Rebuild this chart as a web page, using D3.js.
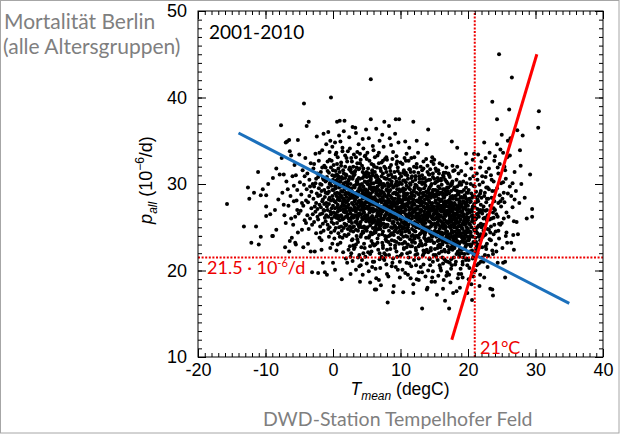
<!DOCTYPE html>
<html><head><meta charset="utf-8">
<script src="https://cdn.jsdelivr.net/npm/d3@7"></script>
<style>body{margin:0;background:#fff}svg{display:block}</style>
</head><body>
<svg id="c" width="620" height="435"></svg>
<script>
// ---- data ----
const xTicks = [-20, -10, 0, 10, 20, 30, 40];
const yTicks = [10, 20, 30, 40, 50];
const period = "2001-2010";
const tCrit = 21;      // degC
const pCrit = 21.5;    // 1e-6/d
const blueFit = [[-14, 35.9], [35, 16.2]];
const redFit = [[17.6, 12.0], [30.2, 45.0]];

// daily observations [Tmean, p_all]
const obsCold = [[-15.7,27.7],[-13.2,25.1],[-12.6,29.6],[-12.4,28.3],[-12.1,23.2],[-11.7,29.0],[-11.4,25.1],[-11.1,31.4],[-11.0,23.0],[-10.7,23.9],[-10.7,28.7],[-10.4,29.4],[-9.9,28.7],[-9.9,27.4],[-9.9,26.3],[-9.6,30.0],[-9.3,26.5],[-9.0,24.0],[-8.9,30.7],[-8.9,24.0],[-8.4,31.8],[-8.4,24.7],[-7.9,31.1],[-7.7,36.8],[-7.3,31.1],[-7.3,27.6],[-7.1,22.7],[-7.0,34.8],[-7.0,25.5],[-6.8,34.9],[-6.7,29.4],[-6.5,35.1],[-6.5,22.2],[-6.4,33.8],[-6.4,23.4],[-6.2,33.3],[-6.1,23.8],[-5.9,25.3],[-5.6,26.2],[-5.6,23.2],[-5.5,23.0],[-5.3,27.0],[-5.2,35.1],[-5.2,24.4],[-5.4,28.1],[-7.5,29.0],[-7.2,26.4],[-6.9,30.3],[-6.6,27.5],[-6.3,28.6],[-6.0,30.9],[-5.8,29.8],[-5.7,32.2],[-5.5,31.0],[-5.3,29.3],[-5.1,26.6],[-5.0,33.4],[-6.2,26.0],[-5.8,28.0],[-8.1,28.2],[-8.6,27.0],[-7.6,33.0],
[-4.9,30.2],[-4.8,26.9],[-4.7,28.8],[-4.6,24.7],[-4.5,31.6],[-4.4,27.5],[-4.3,29.9],[-4.2,25.8],[-4.1,33.0],[-4.0,28.1],[-4.3,39.3],[-4.4,22.7],[-4.6,27.8],[-4.2,30.9],
[-3.9,36.7],[-3.6,37.2],[-3.7,23.1],[-3.3,22.2],[-3.9,29.4],[-3.8,26.4],[-3.8,31.2],[-3.7,27.9],[-3.6,24.8],[-3.5,30.5],[-3.5,28.6],[-3.4,26.0],[-3.3,32.4],[-3.2,29.1],[-3.2,27.2],[-3.1,25.3],[-3.1,19.8],[-3.0,30.0],
[-2.9,28.3],[-2.9,31.8],[-2.8,25.6],[-2.8,29.7],[-2.7,22.2],[-2.7,27.4],[-2.6,33.5],[-2.6,26.8],[-2.5,30.6],[-2.5,24.3],[-2.4,35.5],[-2.4,28.9],[-2.3,27.1],[-2.3,31.2],[-2.2,19.7],[-2.2,25.9],[-2.1,29.5],[-2.1,32.7],[-2.0,27.6],[-2.0,23.8],[-2.6,30.1],[-2.3,26.2],
[-1.9,28.7],[-1.9,25.1],[-1.8,31.4],[-1.8,27.3],[-1.7,29.9],[-1.7,23.5],[-1.6,26.6],[-1.6,33.9],[-1.5,28.2],[-1.5,20.9],[-1.5,30.7],[-1.4,27.0],[-1.4,24.6],[-1.3,32.1],[-1.3,29.3],[-1.2,19.8],[-1.2,26.1],[-1.2,28.5],[-1.1,30.3],[-1.1,25.7],[-1.0,34.6],[-1.0,27.8],[-1.9,30.0],[-1.7,22.4],[-1.4,35.8],[-1.3,26.9],[-1.1,29.0],[-1.6,28.0],
[-0.9,19.5],[-0.9,27.4],[-0.9,30.8],[-0.8,25.3],[-0.8,28.9],[-0.8,32.6],[-0.7,36.0],[-0.7,26.2],[-0.7,29.6],[-0.6,23.9],[-0.6,27.7],[-0.6,31.3],[-0.5,28.4],[-0.5,25.0],[-0.5,33.7],[-0.4,26.8],[-0.4,30.2],[-0.4,22.6],[-0.3,40.0],[-0.3,28.1],[-0.3,24.4],[-0.3,31.9],[-0.2,27.2],[-0.2,29.8],[-0.2,26.0],[-0.1,34.3],[-0.1,28.6],[-0.1,23.1],[0.0,30.5],[0.0,20.9],[-0.8,27.0],[-0.6,29.1],[-0.4,35.0],[-0.2,25.6],[-0.1,31.0],
[-1.9,26.5],[-1.7,29.2],[-1.5,25.4],[-1.3,27.7],[-1.1,31.9],[-0.9,29.0],[-0.7,24.8],[-0.5,30.0],[-0.3,26.5],[-0.1,29.3],[-1.8,24.4],[-1.4,30.5],[-1.0,26.4],[-0.6,28.2],[-0.2,32.7],[-2.5,27.8],[-3.0,26.5],[-2.2,28.6],[-3.4,29.7],[-4.0,25.5]];

const obsCool = [[0.0,27.5],[0.1,29.3],[0.1,25.4],[0.1,32.2],[0.2,28.0],[0.2,23.7],[0.2,30.9],[0.3,20.1],[0.3,26.6],[0.3,29.7],[0.3,34.8],[0.4,27.9],[0.4,24.9],[0.4,31.5],[0.5,28.6],[0.5,26.1],[0.5,22.3],[0.5,30.4],[0.6,37.2],[0.6,27.3],[0.6,29.0],[0.6,25.5],[0.7,33.1],[0.7,28.2],[0.7,26.8],[0.7,23.0],[0.8,30.0],[0.8,27.0],[0.8,31.8],[0.8,24.3],[0.9,28.9],[0.9,26.3],[0.9,29.6],[0.9,35.6],[0.2,26.2],[0.4,29.5],[0.6,31.1],[0.8,28.4],[0.3,27.2],[0.5,33.6],[0.7,30.6],[0.9,25.0],
[1.0,37.3],[1.0,28.1],[1.0,25.8],[1.1,30.3],[1.1,27.0],[1.1,23.2],[1.2,29.2],[1.2,26.4],[1.2,32.5],[1.3,19.0],[1.3,28.6],[1.3,24.6],[1.3,30.8],[1.4,27.7],[1.4,34.2],[1.4,25.9],[1.5,29.9],[1.5,27.1],[1.5,22.1],[1.5,31.6],[1.6,28.3],[1.6,26.0],[1.6,36.1],[1.7,37.3],[1.7,29.4],[1.7,24.1],[1.7,27.5],[1.8,30.7],[1.8,26.7],[1.8,28.8],[1.8,33.3],[1.9,25.2],[1.9,29.0],[1.9,27.9],[1.9,21.4],[1.0,31.4],[1.2,27.4],[1.3,29.7],[1.4,23.8],[1.5,28.0],[1.6,30.1],[1.7,25.4],[1.8,32.0],[1.9,26.2],[1.1,34.9],[1.4,29.1],[1.6,24.9],[1.8,27.1],
[2.0,28.5],[2.0,25.3],[2.0,31.0],[2.1,20.9],[2.1,27.3],[2.1,29.8],[2.2,33.8],[2.2,26.5],[2.2,28.1],[2.3,24.2],[2.3,30.4],[2.3,27.6],[2.4,35.4],[2.4,29.1],[2.4,25.7],[2.5,22.8],[2.5,28.7],[2.5,31.9],[2.5,26.9],[2.6,30.0],[2.6,27.2],[2.6,24.6],[2.7,33.0],[2.7,28.4],[2.7,26.1],[2.7,29.5],[2.8,23.5],[2.8,27.8],[2.8,31.3],[2.9,25.0],[2.9,28.9],[2.9,36.6],[2.9,27.0],[2.0,26.8],[2.1,32.6],[2.2,24.8],[2.3,28.9],[2.4,27.1],[2.5,30.8],[2.6,25.8],[2.7,22.0],[2.8,29.2],[2.9,30.6],[2.1,28.0],[2.3,26.0],[2.5,34.1],[2.6,28.5],[2.8,25.5],[2.4,31.7],[2.0,29.6],[2.6,21.6],[2.9,26.4],
[3.0,27.6],[3.0,30.9],[3.0,24.5],[3.1,28.8],[3.1,26.2],[3.1,33.4],[3.2,29.6],[3.2,22.7],[3.2,27.3],[3.3,31.5],[3.3,25.6],[3.3,28.2],[3.4,20.1],[3.4,29.9],[3.4,26.8],[3.4,35.9],[3.5,27.7],[3.5,24.0],[3.5,30.3],[3.6,28.5],[3.6,26.0],[3.6,32.4],[3.7,29.2],[3.7,23.3],[3.7,27.1],[3.8,30.7],[3.8,25.2],[3.8,28.0],[3.8,34.6],[3.9,26.6],[3.9,29.5],[3.9,21.8],[3.0,28.4],[3.1,25.1],[3.2,31.1],[3.3,27.0],[3.4,24.7],[3.5,29.0],[3.6,33.7],[3.7,26.5],[3.8,27.4],[3.9,31.8],[3.0,22.9],[3.2,26.4],[3.4,28.6],[3.6,25.4],[3.7,30.0],[3.9,27.9],[3.1,29.8],[3.3,36.5],[3.5,26.3],[3.6,23.6],[3.8,29.1],[3.5,31.9],
[4.0,28.1],[4.0,25.3],[4.0,30.6],[4.1,27.0],[4.1,32.8],[4.1,23.9],[4.2,29.3],[4.2,26.5],[4.2,28.7],[4.3,21.2],[4.3,30.0],[4.3,27.4],[4.4,19.5],[4.4,25.9],[4.4,31.4],[4.4,28.3],[4.5,34.1],[4.5,26.9],[4.5,29.7],[4.5,24.4],[4.6,27.8],[4.6,30.9],[4.6,25.1],[4.7,28.9],[4.7,22.6],[4.7,26.3],[4.7,33.2],[4.8,29.4],[4.8,27.2],[4.8,24.8],[4.9,31.1],[4.9,28.0],[4.9,25.7],[4.9,36.3],[4.0,27.5],[4.1,29.9],[4.2,24.2],[4.3,32.1],[4.4,27.1],[4.5,28.6],[4.6,23.1],[4.7,30.3],[4.8,26.0],[4.9,29.0],[4.0,33.5],[4.2,27.9],[4.3,25.0],[4.5,31.8],[4.6,26.7],[4.8,28.5],[4.1,20.6],[4.3,28.8],[4.5,27.3],[4.7,24.9],[4.9,30.2],[4.4,35.2],
[5.0,27.9],[5.0,24.6],[5.0,30.8],[5.1,26.4],[5.1,29.2],[5.1,33.6],[5.2,22.1],[5.2,28.0],[5.2,25.8],[5.3,31.2],[5.3,27.3],[5.3,29.9],[5.4,24.0],[5.4,26.7],[5.4,28.6],[5.5,18.6],[5.5,30.4],[5.5,27.6],[5.5,25.2],[5.6,37.5],[5.6,42.1],[5.6,28.9],[5.6,26.1],[5.7,32.3],[5.7,27.0],[5.7,23.4],[5.8,29.6],[5.8,25.5],[5.8,28.2],[5.9,31.0],[5.9,26.8],[5.9,21.0],[5.9,27.7],[5.0,28.7],[5.1,25.0],[5.2,30.3],[5.3,26.0],[5.4,32.7],[5.5,28.3],[5.6,24.4],[5.7,29.4],[5.8,27.2],[5.9,34.4],[5.0,26.3],[5.2,29.0],[5.3,23.8],[5.4,27.8],[5.6,30.7],[5.7,25.7],[5.8,31.6],[5.9,24.9],[5.1,27.4],[5.3,35.3],[5.5,22.8],[5.7,28.5],[5.8,20.4],[5.4,29.5],
[6.0,27.1],[6.0,30.1],[6.0,24.3],[6.1,28.4],[6.1,25.6],[6.1,32.0],[6.2,17.8],[6.2,26.9],[6.2,29.3],[6.3,23.0],[6.3,27.8],[6.3,30.8],[6.4,25.3],[6.4,28.9],[6.4,17.8],[6.4,26.2],[6.5,31.9],[6.5,27.5],[6.5,24.7],[6.6,29.7],[6.6,26.6],[6.6,33.3],[6.7,28.1],[6.7,22.4],[6.7,25.9],[6.8,30.5],[6.8,27.3],[6.8,24.1],[6.9,28.7],[6.9,26.4],[6.9,35.0],[6.9,29.9],[6.0,26.0],[6.1,22.9],[6.2,31.4],[6.3,28.2],[6.4,27.0],[6.5,29.1],[6.6,23.7],[6.7,30.2],[6.8,26.8],[6.9,25.1],[6.0,33.9],[6.2,28.5],[6.3,25.0],[6.5,26.3],[6.6,27.9],[6.8,32.4],[6.9,21.3],[6.1,29.6],[6.4,36.4],[6.6,25.6],[6.7,27.4],[6.3,20.2],[6.5,30.4],[6.8,28.6],[6.2,24.6],
[7.0,27.4],[7.0,24.8],[7.0,30.3],[7.1,18.3],[7.1,26.5],[7.1,28.9],[7.2,32.5],[7.2,25.4],[7.2,27.9],[7.3,23.2],[7.3,29.6],[7.3,26.8],[7.4,31.2],[7.4,28.3],[7.4,24.5],[7.5,27.1],[7.5,34.3],[7.5,25.9],[7.5,29.0],[7.6,37.2],[7.6,22.0],[7.6,27.6],[7.6,30.7],[7.7,26.2],[7.7,28.6],[7.7,24.0],[7.8,31.8],[7.8,27.0],[7.8,25.2],[7.9,29.3],[7.9,26.6],[7.9,20.7],[7.0,28.2],[7.1,31.5],[7.2,26.0],[7.3,27.3],[7.4,22.6],[7.5,30.0],[7.6,25.0],[7.7,29.8],[7.8,28.0],[7.9,33.1],[7.0,25.7],[7.2,29.2],[7.3,24.2],[7.4,26.9],[7.6,28.8],[7.7,32.9],[7.8,23.6],[7.9,27.7],[7.1,27.0],[7.3,35.7],[7.5,21.4],[7.7,26.4],[7.8,30.6],[7.4,28.1],[7.9,25.3],
[8.0,26.7],[8.0,29.4],[8.0,23.9],[8.1,16.3],[8.1,27.8],[8.1,25.3],[8.2,31.0],[8.2,28.2],[8.2,26.0],[8.3,36.7],[8.3,24.6],[8.3,29.1],[8.3,27.2],[8.4,35.3],[8.4,30.5],[8.4,25.8],[8.5,28.6],[8.5,22.5],[8.5,26.5],[8.6,32.2],[8.6,27.6],[8.6,24.2],[8.7,29.9],[8.7,26.2],[8.7,28.4],[8.8,20.9],[8.8,27.0],[8.8,30.8],[8.9,17.5],[8.9,25.6],[8.9,28.9],[8.9,33.7],[8.0,27.5],[8.1,30.1],[8.2,23.3],[8.3,26.4],[8.4,28.0],[8.5,31.5],[8.6,25.0],[8.7,27.3],[8.8,24.9],[8.9,29.6],[8.0,32.8],[8.2,27.1],[8.3,21.8],[8.5,29.3],[8.6,26.8],[8.7,23.5],[8.8,28.3],[8.9,26.1],[8.1,25.9],[8.4,27.4],[8.6,34.5],[8.7,30.3],[8.2,28.8],[8.5,24.1],[8.8,26.3],[8.0,19.6],
[9.0,26.9],[9.0,29.7],[9.0,24.1],[9.1,27.5],[9.1,31.4],[9.1,25.2],[9.2,28.3],[9.2,22.9],[9.2,26.4],[9.3,37.5],[9.3,30.0],[9.3,27.0],[9.3,24.7],[9.4,28.8],[9.4,26.1],[9.4,33.2],[9.5,21.6],[9.5,27.7],[9.5,29.4],[9.6,25.5],[9.6,31.9],[9.6,27.2],[9.7,23.8],[9.7,28.5],[9.7,26.6],[9.8,37.5],[9.8,30.6],[9.8,25.0],[9.8,27.9],[9.9,29.1],[9.9,26.3],[9.9,19.2],[9.0,28.1],[9.1,23.4],[9.2,30.7],[9.3,26.0],[9.4,27.3],[9.5,32.6],[9.6,24.4],[9.7,29.9],[9.8,26.7],[9.9,28.2],[9.0,25.6],[9.2,27.8],[9.3,20.4],[9.4,30.3],[9.5,25.9],[9.7,34.8],[9.8,28.6],[9.9,24.6],[9.1,29.0],[9.4,22.2],[9.6,28.0],[9.7,27.1],[9.9,31.2],[9.2,35.8],[9.5,26.8],[9.8,23.1],
[0.3,28.9],[0.6,26.4],[0.9,30.2],[1.2,25.1],[1.5,27.9],[1.8,29.5],[2.1,26.2],[2.4,28.3],[2.7,24.9],[3.0,29.0],[3.3,26.9],[3.6,30.5],[3.9,25.0],[4.2,27.7],[4.5,29.3],[4.8,26.4],[5.1,28.4],[5.4,25.6],[5.7,30.1],[6.0,27.0],[6.3,24.4],[6.6,28.8],[6.9,26.9],[7.2,30.0],[7.5,25.4],[7.8,27.8],[8.1,29.2],[8.4,26.1],[8.7,24.3],[9.0,27.9],[9.3,29.0],[9.6,26.5],[9.9,25.3],
[0.1,26.7],[0.4,31.0],[0.7,27.6],[1.0,23.9],[1.3,28.4],[1.6,26.8],[1.9,31.1],[2.2,27.5],[2.5,25.1],[2.8,28.6],[3.1,31.2],[3.4,27.2],[3.7,24.6],[4.0,29.6],[4.3,26.1],[4.6,28.4],[4.9,23.8],[5.2,27.1],[5.5,29.7],[5.8,26.3],[6.1,27.6],[6.4,30.2],[6.7,24.8],[7.0,26.3],[7.3,28.5],[7.6,26.1],[7.9,23.4],[8.2,29.7],[8.5,27.9],[8.8,25.5],[9.1,26.2],[9.4,24.9],[9.7,28.3],
[0.2,24.6],[0.5,29.9],[0.8,26.0],[1.1,28.7],[1.4,30.6],[1.7,28.1],[2.0,24.0],[2.3,29.6],[2.6,26.6],[2.9,23.6],[3.2,28.0],[3.5,25.7],[3.8,26.3],[4.1,25.6],[4.4,29.1],[4.7,27.6],[5.0,31.4],[5.3,28.8],[5.6,25.9],[5.9,29.1],[6.2,25.8],[6.5,28.1],[6.8,29.3],[7.1,25.2],[7.4,29.9],[7.7,27.2],[8.0,28.5],[8.3,24.0],[8.6,30.0],[8.9,27.6],[9.2,25.1],[9.5,28.9],[9.8,29.4],
[0.0,28.2],[0.9,27.2],[1.6,29.8],[2.2,30.1],[3.0,26.1],[3.7,28.8],[4.4,24.5],[5.1,30.0],[5.8,24.2],[6.4,29.5],[7.0,29.0],[7.7,25.0],[8.4,29.8],[9.1,24.5],[9.8,27.3],[1.3,26.2],[2.6,31.5],[4.0,26.5],[5.4,27.1],[6.8,25.4],[8.0,25.1],[9.4,29.8]];

const obsWarm = [[10.0,26.6],[10.0,29.2],[10.0,23.6],[10.1,27.9],[10.1,25.1],[10.1,30.9],[10.2,28.1],[10.2,26.2],[10.2,21.9],[10.3,32.3],[10.3,27.3],[10.3,24.8],[10.4,17.5],[10.4,29.5],[10.4,26.8],[10.4,28.6],[10.5,25.4],[10.5,31.6],[10.5,27.6],[10.6,23.3],[10.6,28.9],[10.6,26.0],[10.7,34.9],[10.7,27.1],[10.7,24.5],[10.8,30.2],[10.8,26.5],[10.8,28.4],[10.9,22.7],[10.9,27.7],[10.9,25.7],[10.9,33.5],[10.0,28.0],[10.1,24.2],[10.2,30.0],[10.3,26.1],[10.4,23.9],[10.5,29.0],[10.6,27.4],[10.7,31.1],[10.8,24.0],[10.9,28.8],[10.0,25.9],[10.2,27.5],[10.3,20.1],[10.5,26.7],[10.6,30.4],[10.7,25.3],[10.8,27.0],[10.9,29.8],[10.1,26.9],[10.3,29.3],[10.5,22.5],[10.6,24.9],[10.8,32.7],[10.2,25.6],[10.4,31.3],[10.7,28.2],
[11.0,26.3],[11.0,28.9],[11.0,23.9],[11.1,27.4],[11.1,30.6],[11.1,25.0],[11.2,28.0],[11.2,21.5],[11.2,26.2],[11.3,31.7],[11.3,27.0],[11.3,24.4],[11.4,29.4],[11.4,25.8],[11.4,27.8],[11.5,19.1],[11.5,26.6],[11.5,29.9],[11.6,24.0],[11.6,28.3],[11.6,33.0],[11.7,26.0],[11.7,27.5],[11.7,22.8],[11.8,30.3],[11.8,25.4],[11.8,28.7],[11.9,37.2],[11.9,17.4],[11.9,26.9],[11.9,29.1],[11.0,27.7],[11.1,23.0],[11.2,29.6],[11.3,25.9],[11.4,27.2],[11.5,31.4],[11.6,26.4],[11.7,24.8],[11.8,27.9],[11.9,25.2],[11.0,31.0],[11.2,24.6],[11.3,28.5],[11.4,22.1],[11.5,27.1],[11.6,29.0],[11.7,30.9],[11.8,23.5],[11.9,28.2],[11.1,26.1],[11.3,34.2],[11.5,25.6],[11.6,20.5],[11.7,28.6],[11.8,26.7],[11.4,30.1],[11.0,25.3],
[12.05,26.8],[12.0,29.3],[12.15,23.2],[12.1,27.6],[12.25,30.9],[12.2,24.5],[12.35,27.2],[12.3,20.6],[12.45,25.5],[12.4,31.9],[12.55,26.3],[12.5,24.0],[12.65,29.5],[12.6,25.0],[12.75,27.9],[12.7,18.9],[12.85,26.0],[12.8,30.2],[12.95,23.4],[12.9,28.4],[12.0,32.0],[12.1,25.6],[12.2,27.0],[12.3,22.3],[12.4,29.8],[12.5,25.9],[12.6,28.0],[12.7,21.4],[12.8,26.3],[12.9,29.0],[12.05,33.1],[12.15,27.1],[12.25,22.6],[12.35,29.0],[12.45,25.2],[12.55,27.4],[12.65,31.3],[12.75,26.2],[12.85,24.2],[12.95,27.5],[12.0,24.6],[12.2,30.5],[12.3,24.0],[12.4,28.1],[12.5,21.9],[12.6,26.6],[12.7,28.8],[12.8,30.9],[12.9,23.0],[12.1,28.6],[12.3,26.4],[12.4,35.0],[12.6,25.3],[12.7,19.8],[12.8,28.3],[12.9,26.7],[12.2,29.9],[12.5,25.1],
[13.0,25.7],[13.0,28.3],[13.1,23.1],[13.1,27.0],[13.1,30.2],[13.2,15.6],[13.2,26.4],[13.2,24.6],[13.3,28.9],[13.3,21.7],[13.3,26.0],[13.4,31.8],[13.4,27.4],[13.4,25.2],[13.5,29.5],[13.5,23.8],[13.5,26.8],[13.6,28.2],[13.6,24.1],[13.6,30.7],[13.7,27.1],[13.7,25.5],[13.7,19.3],[13.8,32.9],[13.8,26.3],[13.8,28.6],[13.9,17.8],[13.9,34.6],[13.9,25.0],[13.9,27.7],[13.0,29.4],[13.1,26.9],[13.2,22.9],[13.3,27.9],[13.4,24.4],[13.5,30.1],[13.6,26.5],[13.7,23.0],[13.8,29.1],[13.9,26.0],[13.0,24.3],[13.1,28.0],[13.2,31.0],[13.3,25.5],[13.4,22.3],[13.5,27.3],[13.6,26.2],[13.7,29.8],[13.8,24.7],[13.9,30.4],[13.1,25.9],[13.3,30.6],[13.4,20.7],[13.6,27.8],[13.7,23.6],[13.8,27.2],[13.2,28.5],[13.5,25.8],[13.9,22.4],[13.0,32.0],
[14.0,26.1],[14.0,29.0],[14.0,23.4],[14.1,36.3],[14.1,27.5],[14.1,24.8],[14.2,30.5],[14.2,25.7],[14.2,28.1],[14.3,21.4],[14.3,26.6],[14.3,29.6],[14.4,24.3],[14.4,27.2],[14.4,31.7],[14.5,25.1],[14.5,28.4],[14.5,22.6],[14.6,26.9],[14.6,30.0],[14.6,24.0],[14.7,27.8],[14.7,25.4],[14.7,33.1],[14.8,19.9],[14.8,28.7],[14.8,26.3],[14.9,23.2],[14.9,29.3],[14.9,25.9],[14.0,27.3],[14.1,22.1],[14.2,26.8],[14.3,31.1],[14.4,25.6],[14.5,29.8],[14.6,27.6],[14.7,23.9],[14.8,30.8],[14.9,27.0],[14.0,24.7],[14.1,29.2],[14.2,23.7],[14.3,27.9],[14.4,20.6],[14.5,26.2],[14.6,28.6],[14.7,26.0],[14.8,24.4],[14.9,32.3],[14.0,31.4],[14.2,27.0],[14.3,25.0],[14.5,24.5],[14.6,32.6],[14.7,29.0],[14.8,27.1],[14.9,21.8],[14.1,26.4],[14.4,28.9],[14.6,18.7],[14.8,25.3],
[15.0,25.9],[15.0,28.5],[15.0,23.2],[15.1,27.0],[15.1,30.1],[15.1,24.6],[15.2,26.7],[15.2,21.8],[15.2,29.3],[15.3,25.3],[15.3,27.8],[15.3,31.5],[15.4,17.2],[15.4,26.2],[15.4,24.0],[15.4,28.9],[15.5,30.7],[15.5,25.6],[15.5,27.4],[15.6,22.9],[15.6,26.5],[15.6,29.7],[15.7,24.4],[15.7,28.2],[15.7,25.9],[15.8,32.4],[15.8,27.1],[15.8,23.6],[15.9,26.9],[15.9,29.0],[15.9,20.3],[15.9,25.1],[15.0,27.4],[15.1,22.5],[15.2,25.0],[15.3,28.6],[15.4,30.3],[15.5,23.4],[15.6,27.7],[15.7,26.3],[15.8,24.8],[15.9,28.0],[15.0,30.6],[15.1,26.0],[15.2,27.9],[15.3,23.9],[15.4,26.8],[15.5,29.2],[15.6,24.5],[15.7,31.2],[15.8,26.4],[15.9,22.7],[15.0,24.2],[15.2,31.8],[15.3,26.6],[15.5,21.2],[15.6,28.3],[15.7,22.0],[15.8,29.5],[15.9,27.5],[15.1,28.8],[15.4,25.4],[15.6,19.4],[15.8,25.8],
[16.0,25.7],[16.0,28.2],[16.0,23.0],[16.1,26.8],[16.1,29.9],[16.1,24.4],[16.2,27.5],[16.2,21.5],[16.2,25.3],[16.3,31.0],[16.3,26.1],[16.3,28.7],[16.4,23.7],[16.4,27.0],[16.4,25.0],[16.5,29.4],[16.5,22.4],[16.5,26.5],[16.6,16.5],[16.6,28.0],[16.6,24.8],[16.6,30.5],[16.7,26.3],[16.7,23.3],[16.7,27.7],[16.8,25.6],[16.8,31.9],[16.8,28.8],[16.9,24.1],[16.9,26.9],[16.9,19.8],[16.9,29.6],[16.0,27.1],[16.1,22.2],[16.2,29.0],[16.3,24.9],[16.4,27.8],[16.5,25.9],[16.6,23.6],[16.7,29.2],[16.8,26.6],[16.9,24.5],[16.0,30.4],[16.1,25.6],[16.2,26.9],[16.3,20.8],[16.4,28.4],[16.5,27.3],[16.6,25.2],[16.7,31.3],[16.8,23.9],[16.9,27.4],[16.0,24.2],[16.1,28.1],[16.2,23.4],[16.3,27.2],[16.4,30.8],[16.5,24.3],[16.6,26.7],[16.7,21.1],[16.8,27.9],[16.9,25.7],[16.2,32.2],[16.5,28.5],[16.7,25.0],[16.4,18.9],
[17.0,25.5],[17.0,28.0],[17.0,22.8],[17.1,26.6],[17.1,29.6],[17.1,24.2],[17.2,15.6],[17.2,27.3],[17.2,25.1],[17.3,30.8],[17.3,26.0],[17.3,23.5],[17.4,28.5],[17.4,24.9],[17.4,27.0],[17.5,21.3],[17.5,26.3],[17.5,29.2],[17.6,34.9],[17.6,24.6],[17.6,27.7],[17.6,25.8],[17.7,30.3],[17.7,23.0],[17.7,26.8],[17.8,17.4],[17.8,28.3],[17.8,25.4],[17.8,31.5],[17.9,24.0],[17.9,27.1],[17.9,26.2],[17.0,30.1],[17.1,22.1],[17.2,28.9],[17.3,25.7],[17.4,23.2],[17.5,27.9],[17.6,29.9],[17.7,24.4],[17.8,26.5],[17.9,22.6],[17.0,26.9],[17.1,27.8],[17.2,23.8],[17.3,28.2],[17.4,25.6],[17.5,24.3],[17.6,20.6],[17.7,28.6],[17.8,27.4],[17.9,29.4],[17.0,24.0],[17.1,31.2],[17.2,26.4],[17.3,20.9],[17.4,29.8],[17.5,25.2],[17.6,26.9],[17.7,32.1],[17.8,23.7],[17.9,25.0],[17.3,27.5],[17.5,22.7],[17.7,25.9],[17.2,19.5],
[18.0,25.3],[18.0,27.8],[18.0,22.6],[18.1,26.4],[18.1,29.3],[18.1,24.0],[18.2,27.1],[18.2,21.0],[18.2,25.0],[18.3,30.5],[18.3,25.8],[18.3,28.2],[18.4,23.4],[18.4,26.7],[18.4,24.7],[18.5,28.9],[18.5,22.2],[18.5,26.1],[18.6,31.2],[18.6,27.5],[18.6,24.4],[18.7,25.6],[18.7,29.9],[18.7,23.1],[18.8,18.0],[18.8,27.2],[18.8,25.2],[18.9,28.4],[18.9,24.1],[18.9,26.8],[18.9,20.2],[18.0,29.6],[18.1,22.9],[18.2,28.6],[18.3,24.3],[18.4,27.4],[18.5,25.5],[18.6,23.0],[18.7,27.8],[18.8,30.2],[18.9,25.9],[18.0,24.5],[18.1,27.6],[18.2,23.7],[18.3,26.5],[18.4,29.2],[18.5,24.0],[18.6,26.2],[18.7,21.6],[18.8,28.0],[18.9,23.3],[18.0,31.6],[18.2,26.0],[18.3,21.9],[18.5,27.0],[18.6,28.8],[18.7,24.6],[18.8,22.5],[18.9,30.0],[18.1,25.4],[18.4,32.0],[18.6,19.6],[18.8,26.3],[18.4,34.2],
[19.0,25.1],[19.0,27.7],[19.0,22.4],[19.1,26.3],[19.1,29.1],[19.1,23.8],[19.2,26.9],[19.2,20.7],[19.2,24.8],[19.3,30.3],[19.3,25.6],[19.3,28.0],[19.4,23.2],[19.4,26.5],[19.4,24.4],[19.5,28.7],[19.5,21.9],[19.5,25.9],[19.6,31.0],[19.6,27.3],[19.6,24.1],[19.7,25.4],[19.7,29.6],[19.7,22.9],[19.8,27.0],[19.8,25.0],[19.8,32.4],[19.9,17.4],[19.9,28.2],[19.9,23.9],[19.9,26.6],[19.0,29.9],[19.1,22.0],[19.2,28.4],[19.3,24.0],[19.4,27.2],[19.5,25.3],[19.6,22.7],[19.7,27.6],[19.8,30.1],[19.9,25.7],[19.0,24.3],[19.1,27.4],[19.2,23.4],[19.3,26.2],[19.4,29.3],[19.5,23.7],[19.6,26.0],[19.7,21.2],[19.8,27.9],[19.9,23.0],[19.0,31.5],[19.3,21.5],[19.5,27.8],[19.6,28.5],[19.8,24.6],[19.2,19.2],[19.7,33.5],
[10.1,27.3],[10.4,25.0],[10.7,29.4],[11.0,24.7],[11.3,26.6],[11.6,28.9],[11.9,24.0],[12.2,26.1],[12.5,28.0],[12.8,24.9],[13.1,27.7],[13.4,29.0],[13.7,24.4],[14.0,26.7],[14.3,28.8],[14.6,25.3],[14.9,24.1],[15.2,28.1],[15.5,26.0],[15.8,23.0],[16.1,27.4],[16.4,25.5],[16.7,28.9],[17.0,23.7],[17.3,26.7],[17.6,28.4],[17.9,23.4],[18.2,25.7],[18.5,28.2],[18.8,24.0],[19.1,26.7],[19.4,25.7],[19.7,28.3],
[10.2,24.4],[10.5,28.3],[10.8,25.8],[11.1,28.2],[11.4,23.6],[11.7,27.2],[12.0,27.8],[12.3,25.0],[12.6,27.1],[12.9,25.7],[13.2,25.4],[13.5,28.7],[13.8,25.9],[14.1,28.5],[14.4,23.4],[14.7,27.3],[15.0,26.6],[15.3,24.4],[15.6,25.3],[15.9,26.3],[16.2,24.1],[16.5,26.9],[16.8,24.5],[17.1,25.5],[17.4,27.4],[17.7,27.2],[18.0,26.6],[18.3,27.1],[18.6,25.1],[18.9,27.5],[19.2,25.4],[19.5,24.5],[19.8,26.2],
[10.3,28.1],[10.6,25.6],[10.9,26.4],[11.2,25.3],[11.5,28.4],[11.8,26.3],[12.1,29.6],[12.4,26.6],[12.7,23.8],[13.0,27.0],[13.3,24.6],[13.6,25.0],[13.9,28.3],[14.2,24.6],[14.5,27.2],[14.8,29.3],[15.1,25.4],[15.4,27.1],[15.7,28.8],[16.0,26.3],[16.3,29.4],[16.6,27.5],[16.9,23.2],[17.2,28.1],[17.5,23.9],[17.8,25.9],[18.1,28.6],[18.4,24.3],[18.7,26.4],[19.0,28.5],[19.3,23.6],[19.6,27.7],[19.9,24.4],
[10.0,30.1],[10.7,23.2],[11.4,26.5],[12.1,23.7],[12.8,29.4],[13.5,26.3],[14.2,29.4],[14.9,26.5],[15.6,30.4],[16.3,23.3],[17.0,29.2],[17.7,22.4],[18.4,29.7],[19.1,24.9],[19.8,29.0],[10.4,27.7],[11.8,24.1],[13.2,30.0],[14.6,23.5],[16.0,29.0],[17.4,26.2],[18.8,29.1]];

const obsHot = [[20.0,24.8],[20.0,27.5],[20.0,22.0],[20.1,26.1],[20.1,29.3],[20.1,23.5],[20.2,26.7],[20.2,20.3],[20.3,24.5],[20.3,30.6],[20.3,25.3],[20.4,28.0],[20.4,22.8],[20.5,26.3],[20.5,24.0],[20.5,31.8],[20.6,16.6],[20.6,27.1],[20.6,25.7],[20.7,21.4],[20.7,28.6],[20.7,23.9],[20.8,26.0],[20.8,29.8],[20.8,19.3],[20.9,27.7],[20.9,24.7],[20.9,33.5],[20.0,29.0],[20.1,21.2],[20.2,28.3],[20.3,23.0],[20.4,26.9],[20.5,25.0],[20.6,22.3],[20.7,27.4],[20.8,30.9],[20.9,25.5],[20.0,25.8],[20.2,23.7],[20.4,30.0],[20.5,18.4],[20.6,28.4],[20.7,25.9],[20.8,23.3],[20.9,21.8],[20.3,27.9],[20.7,32.8],
[21.0,24.6],[21.0,27.3],[21.1,22.1],[21.1,25.9],[21.2,29.1],[21.2,23.3],[21.3,26.5],[21.3,20.6],[21.4,24.3],[21.4,30.5],[21.5,25.1],[21.5,28.0],[21.6,22.6],[21.6,26.2],[21.7,18.2],[21.7,24.0],[21.8,31.9],[21.8,27.0],[21.9,25.4],[21.9,21.0],[21.0,29.7],[21.1,23.8],[21.2,27.9],[21.3,24.9],[21.4,22.0],[21.5,33.4],[21.6,28.6],[21.7,26.8],[21.8,23.5],[21.9,29.2],[21.1,20.0],[21.3,31.2],[21.5,23.0],[21.6,25.2],[21.8,19.5],[21.9,27.6],[21.2,26.0],[21.4,28.2],
[22.0,25.0],[22.0,28.4],[22.1,22.7],[22.1,26.6],[22.2,30.2],[22.2,23.9],[22.3,27.4],[22.4,19.2],[22.4,34.8],[22.4,25.3],[22.5,29.0],[22.5,21.8],[22.6,26.9],[22.6,24.2],[22.7,31.4],[22.7,27.9],[22.8,23.1],[22.8,25.8],[22.9,29.6],[22.9,20.4],[22.0,32.6],[22.2,27.0],[22.3,24.6],[22.5,26.1],[22.6,30.8],[22.7,22.5],[22.8,28.3],[22.9,24.8],[22.3,21.0],[22.6,33.0],
[23.0,26.0],[23.1,29.4],[23.2,23.6],[23.3,27.5],[23.3,17.9],[23.4,31.0],[23.4,25.1],[23.5,28.4],[23.6,17.8],[23.6,39.5],[23.6,22.3],[23.7,17.1],[23.7,26.7],[23.8,30.3],[23.8,24.2],[23.9,28.0],[23.9,32.7],[23.0,21.7],[23.2,33.6],[23.5,26.0],[23.8,27.2],[23.1,24.7],
[24.0,33.2],[24.0,27.0],[24.1,24.5],[24.3,37.5],[24.3,29.5],[24.4,20.9],[24.4,26.2],[24.5,31.2],[24.6,45.0],[24.6,23.7],[24.7,28.7],[24.8,25.3],[24.9,30.1],[24.2,22.2],[24.8,34.0],[24.5,27.8],
[25.0,35.7],[25.1,28.3],[25.2,33.6],[25.2,20.9],[25.3,26.0],[25.5,19.2],[25.5,21.0],[25.6,30.6],[25.7,24.4],[25.8,23.2],[25.9,28.9],[25.4,32.0],
[26.1,38.6],[26.2,29.7],[26.4,23.2],[26.5,42.3],[26.7,24.1],[26.8,22.4],[26.6,27.3],[26.9,31.4],
[27.3,36.2],[27.6,27.8],[27.7,33.9],[27.2,25.6],[27.9,30.0],
[28.1,35.6],[28.4,28.4],[28.7,26.0],
[29.2,31.1],[29.5,27.1],[29.5,26.2],
[30.4,36.5],[30.5,38.4],
[20.1,27.0],[20.3,24.0],[20.5,28.9],[20.7,26.4],[20.9,23.2],[20.2,25.4],[20.4,24.4],[20.6,26.8],[20.8,27.4],[20.0,23.5],
[21.0,26.1],[21.2,24.5],[21.4,27.1],[21.6,23.9],[21.8,28.9],[21.1,28.5],[21.3,22.8],[21.5,26.6],[21.7,29.9],[21.9,24.2],
[22.0,26.8],[22.2,25.3],[22.4,28.6],[22.6,22.8],[22.8,27.0],[22.1,30.9],[22.3,26.0],[22.5,24.1],[22.7,29.6],[22.9,26.4],
[23.0,28.3],[23.2,25.9],[23.4,23.5],[23.6,29.2],[23.8,26.1],[23.1,31.8],[23.3,24.4],[23.5,30.5],[23.7,21.9],[23.9,25.3],
[24.0,29.2],[24.2,26.5],[24.4,31.9],[24.6,25.4],[24.8,28.0],[24.1,23.0],[24.3,34.6],[24.5,24.6],[24.7,32.3],[24.9,27.4],
[25.0,25.5],[25.2,30.2],[25.4,27.9],[25.6,24.0],[25.8,33.1],[25.1,22.6],[25.3,29.0],[25.7,26.7],[25.9,35.0],[25.5,31.6],
[26.0,26.2],[26.2,33.3],[26.4,28.6],[26.6,30.1],[26.8,25.7],[26.3,35.3],[26.9,28.2],[27.1,29.2],[27.4,24.2],[27.8,32.1]];

// days in the lower (low mortality) and upper (high mortality) fringes of the cloud
const obsFringe = [[2.3,22.4],[2.9,21.1],[3.4,23.0],[3.9,20.5],[4.2,22.7],[4.8,21.6],[5.3,19.9],[5.7,22.2],[6.1,21.0],[6.6,23.2],[7.0,20.3],[7.4,22.9],[7.8,21.8],[8.2,19.3],[8.5,23.0],[8.9,21.4],[9.2,22.6],[9.6,20.1],[10.0,21.7],[10.3,23.1],[10.7,19.7],[11.0,22.0],[11.3,20.8],[11.7,23.3],[12.0,21.2],[12.4,19.0],[12.7,22.8],[13.0,20.4],[13.4,21.9],[13.8,23.4],[14.1,20.0],[14.5,22.3],[14.8,21.0],[15.1,18.7],[15.5,22.6],[15.8,20.6],[16.2,23.0],[16.5,21.3],[16.8,19.4],[17.2,22.4],[17.5,20.2],[17.9,21.5],[18.2,23.2],[18.5,19.1],[18.9,22.0],[19.2,21.0],[19.6,23.3],[19.9,20.6],[20.3,22.2],[20.6,19.8],
[2.6,19.6],[3.1,22.5],[3.7,21.5],[4.5,22.0],[5.0,20.8],[5.9,23.1],[6.4,19.1],[6.9,22.0],[7.6,21.2],[8.0,22.4],[8.7,20.5],[9.4,23.3],[9.9,21.0],[10.5,22.6],[11.1,19.5],[11.5,22.8],[12.2,21.8],[12.9,23.0],[13.2,19.8],[13.6,22.1],[14.3,21.3],[14.7,19.2],[15.3,21.6],[15.7,23.5],[16.0,20.0],[16.6,22.2],[17.0,21.0],[17.4,18.6],[17.8,22.9],[18.1,20.7],[18.7,21.9],[19.0,19.6],[19.4,22.5],[19.8,21.4],[20.1,19.0],[20.5,23.0],[20.8,21.6],[21.2,22.5],[21.6,20.8],[22.1,21.5],[4.0,18.7],[6.8,18.9],[9.0,18.2],[11.9,18.4],[14.0,18.0],[16.3,17.9],[18.3,17.6],[10.9,20.9],[7.2,21.6],[5.5,21.9],
[-2.8,32.3],[-2.2,30.8],[-1.6,31.9],[-1.0,30.4],[-0.5,32.8],[0.0,31.6],[0.4,33.4],[0.8,30.9],[1.2,32.1],[1.6,31.2],[2.0,33.0],[2.4,30.6],[2.8,32.6],[3.2,31.4],[3.6,30.3],[4.0,32.4],[4.4,30.7],[4.8,33.3],[5.2,31.8],[5.6,30.5],[6.0,32.2],[6.4,31.0],[6.8,33.6],[7.2,30.9],[7.6,32.0],[8.0,30.6],[8.4,31.9],[8.8,32.9],[9.2,30.8],[9.6,31.5],[10.0,32.5],[10.4,30.4],[10.8,31.3],[11.2,32.7],[11.6,30.7],[12.0,31.4],[12.4,32.3],[12.8,30.6],[13.2,31.6],[13.6,30.2],[14.0,32.1],[14.4,30.5],[14.8,31.2],[15.2,30.2],[15.6,31.6],[16.0,30.6],[16.4,31.3],[16.8,30.3],[17.2,31.0],[17.6,30.1],
[-2.0,33.6],[-0.8,31.5],[0.2,30.2],[0.6,32.3],[1.4,33.8],[1.9,30.2],[2.6,31.7],[3.4,33.1],[3.8,31.7],[4.6,31.2],[5.0,32.9],[5.8,31.3],[6.2,33.1],[6.6,30.8],[7.4,32.7],[7.9,31.4],[8.6,31.1],[9.4,32.3],[9.9,30.2],[10.6,33.0],[11.4,31.7],[12.2,30.9],[12.6,33.6],[13.4,32.6],[14.2,31.1],[15.0,32.8],[1.0,30.7],[3.0,32.0],[5.4,30.9],[7.0,31.8]];

// ---- drawing ----
const W = 620, H = 435;
const svg = d3.select("#c");
const axisFont = "'Liberation Sans', Arial, Helvetica, sans-serif";
const textFont = "Lato, 'Open Sans', sans-serif";
const gray = "#7f7f7f", red = "#ee0000", blue = "#1b70bc";

svg.append("rect").attr("x",0.5).attr("y",0.5).attr("width",W-1.5).attr("height",H-2.5)
  .attr("fill","#fff").attr("stroke","#a6a6a6").attr("stroke-width",1);

const x = d3.scaleLinear().domain([-20, 40]).range([198, 603]);
const y = d3.scaleLinear().domain([10, 50]).range([357, 11]);
const [x0, x1] = x.range(), [y0, y1] = y.range();

svg.append("clipPath").attr("id","pc").append("rect")
  .attr("x",x0).attr("y",y1).attr("width",x1-x0).attr("height",y0-y1);

const plot = svg.append("g").attr("clip-path","url(#pc)");
const obs = obsCold.concat(obsCool, obsWarm, obsHot, obsFringe);
plot.append("g").selectAll("circle").data(obs).join("circle")
  .attr("cx", d => x(d[0])).attr("cy", d => y(d[1])).attr("r", 2).attr("fill", "#000");

// threshold dotted lines
plot.append("line").attr("x1", x(tCrit)).attr("x2", x(tCrit)).attr("y1", y(10)).attr("y2", y(50))
  .attr("stroke", red).attr("stroke-width", 2).attr("stroke-dasharray", "2,1.6");
plot.append("line").attr("x1", x(-20)).attr("x2", x(40)).attr("y1", y(pCrit)).attr("y2", y(pCrit))
  .attr("stroke", red).attr("stroke-width", 2).attr("stroke-dasharray", "2,1.6");

const line = d3.line().x(d => x(d[0])).y(d => y(d[1]));
plot.append("path").attr("d", line(blueFit)).attr("stroke", blue).attr("stroke-width", 3).attr("fill","none");
plot.append("path").attr("d", line(redFit)).attr("stroke", "#f00").attr("stroke-width", 3).attr("fill","none");

// axes with inward ticks on all sides
const xMinor = d3.range(-20, 41, 1), yMinor = d3.range(10, 51, 1);
function styleAxis(g){ g.select(".domain").remove(); g.selectAll("line").attr("stroke","#000"); }
const fmt = d => String(d);
svg.append("g").attr("transform",`translate(0,${y0})`)
  .call(d3.axisBottom(x).tickValues(xMinor).tickSize(-4).tickFormat("")).call(styleAxis);
svg.append("g").attr("transform",`translate(0,${y0})`)
  .call(d3.axisBottom(x).tickValues(xTicks).tickSize(-8).tickPadding(6).tickFormat(fmt)).call(styleAxis);
svg.append("g").attr("transform",`translate(0,${y1})`)
  .call(d3.axisTop(x).tickValues(xMinor).tickSize(-4).tickFormat("")).call(styleAxis);
svg.append("g").attr("transform",`translate(0,${y1})`)
  .call(d3.axisTop(x).tickValues(xTicks).tickSize(-8).tickFormat("")).call(styleAxis);
svg.append("g").attr("transform",`translate(${x0},0)`)
  .call(d3.axisLeft(y).tickValues(yMinor).tickSize(-4).tickFormat("")).call(styleAxis);
svg.append("g").attr("transform",`translate(${x0},0)`)
  .call(d3.axisLeft(y).tickValues(yTicks).tickSize(-8).tickPadding(11).tickFormat(fmt)).call(styleAxis);
svg.append("g").attr("transform",`translate(${x1},0)`)
  .call(d3.axisRight(y).tickValues(yMinor).tickSize(-4).tickFormat("")).call(styleAxis);
svg.append("g").attr("transform",`translate(${x1},0)`)
  .call(d3.axisRight(y).tickValues(yTicks).tickSize(-8).tickFormat("")).call(styleAxis);
svg.selectAll(".tick text").attr("font-family", axisFont).attr("font-size", 18).attr("fill","#000");

svg.append("rect").attr("x",x0).attr("y",y1).attr("width",x1-x0).attr("height",y0-y1)
  .attr("fill","none").attr("stroke","#000").attr("stroke-width",1);

// axis titles
const xt = svg.append("text").attr("x", 400).attr("y", 395).attr("text-anchor","middle")
  .attr("font-family", axisFont).attr("font-size", 17.5).attr("fill","#000");
xt.append("tspan").attr("font-style","italic").text("T");
xt.append("tspan").attr("font-style","italic").attr("font-size",12).attr("dy",5).text("mean");
xt.append("tspan").attr("dy",-5).text(" (degC)");

const yt = svg.append("text").attr("transform","translate(152,180) rotate(-90)").attr("text-anchor","middle")
  .attr("font-family", axisFont).attr("font-size", 18).attr("fill","#000");
yt.append("tspan").attr("font-style","italic").text("p");
yt.append("tspan").attr("font-style","italic").attr("font-size",12).attr("dy",5).text("all");
yt.append("tspan").attr("dy",-5).text(" (10");
yt.append("tspan").attr("font-size",12).attr("dy",-8).text("\u22126");
yt.append("tspan").attr("dy",8).text("/d)");

// annotations
svg.append("text").attr("x",4).attr("y",29).attr("font-family",textFont).attr("font-size",21)
  .attr("fill",gray).text("Mortalität Berlin");
svg.append("text").attr("x",3).attr("y",54).attr("font-family",textFont).attr("font-size",21)
  .attr("fill",gray).text("(alle Altersgruppen)");
svg.append("text").attr("x",209).attr("y",39).attr("font-family",textFont).attr("font-size",19)
  .attr("fill","#000").text(period);
const pl = svg.append("text").attr("x",207).attr("y",274).attr("font-family",textFont).attr("font-size",18).attr("fill",red);
pl.append("tspan").text(pCrit + " \u00b7 10");
pl.append("tspan").attr("font-size",11).attr("dy",-7).text("-6");
pl.append("tspan").attr("dy",7).text("/d");
svg.append("text").attr("x",480).attr("y",354).attr("font-family",textFont).attr("font-size",18)
  .attr("fill",red).text(tCrit + "°C");
svg.append("text").attr("x",263).attr("y",426).attr("font-family",textFont).attr("font-size",19.5)
  .attr("fill",gray).text("DWD-Station Tempelhofer Feld");
</script>
</body></html>
